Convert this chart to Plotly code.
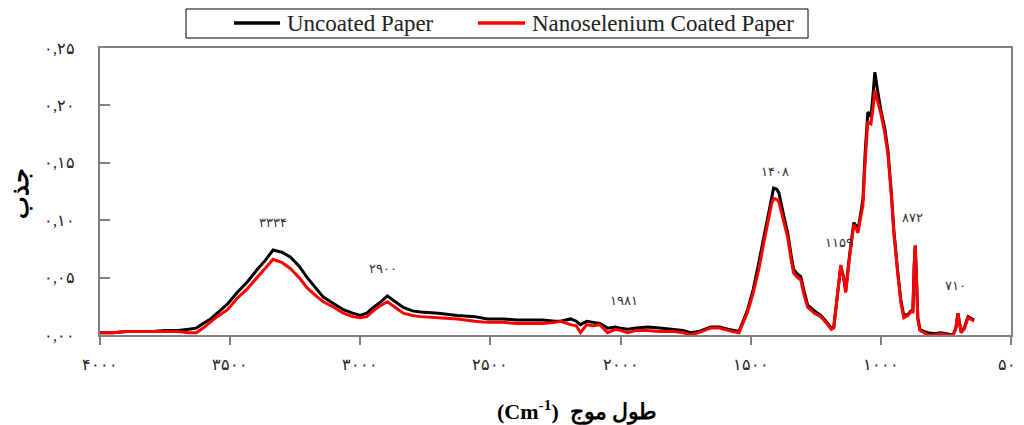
import plotly.graph_objects as go

# ---- data ----
wavenumber = [4000, 3950, 3900, 3850, 3800, 3750, 3700, 3660, 3630, 3604, 3575, 3550, 3510, 3473,
              3435, 3396, 3365, 3335, 3300, 3269, 3235, 3204, 3170, 3142, 3100, 3065, 3030, 3000,
              2975, 2950, 2920, 2896, 2865, 2835, 2800, 2769, 2700, 2627, 2560, 2512, 2450, 2400,
              2350, 2300, 2250, 2231, 2192, 2170, 2154, 2130, 2104, 2080, 2050, 2020, 2000, 1973,
              1940, 1896, 1850, 1796, 1760, 1731, 1700, 1654, 1620, 1588, 1570, 1545, 1512, 1490,
              1469, 1450, 1431, 1420, 1412, 1400, 1392, 1375, 1358, 1345, 1335, 1320, 1308, 1295,
              1281, 1255, 1231, 1215, 1204, 1190, 1181, 1168, 1154, 1143, 1135, 1120, 1104, 1095,
              1088, 1078, 1069, 1060, 1050, 1044, 1038, 1030, 1023, 1012, 1000, 985, 973, 960,
              950, 935, 923, 912, 896, 885, 877, 872, 868, 864, 858, 850, 835, 819, 795, 769,
              745, 723, 712, 704, 692, 680, 665, 652, 642]

uncoated = [0.002, 0.002, 0.003, 0.003, 0.003, 0.004, 0.004, 0.005, 0.006, 0.010, 0.014, 0.019, 0.027, 0.037,
            0.046, 0.057, 0.065, 0.074, 0.072, 0.068, 0.060, 0.050, 0.041, 0.033, 0.027, 0.022, 0.019, 0.017,
            0.019, 0.024, 0.029, 0.034, 0.029, 0.024, 0.021, 0.020, 0.019, 0.017, 0.016, 0.014, 0.014, 0.013,
            0.013, 0.013, 0.012, 0.012, 0.014, 0.012, 0.009, 0.012, 0.011, 0.010, 0.006, 0.007, 0.006, 0.005,
            0.006, 0.007, 0.006, 0.005, 0.004, 0.002, 0.003, 0.007, 0.007, 0.005, 0.004, 0.003, 0.022, 0.040,
            0.063, 0.085, 0.109, 0.122, 0.128, 0.127, 0.124, 0.106, 0.089, 0.070, 0.057, 0.053, 0.051, 0.038,
            0.026, 0.021, 0.017, 0.013, 0.010, 0.006, 0.007, 0.035, 0.060, 0.050, 0.039, 0.070, 0.098, 0.095,
            0.091, 0.105, 0.118, 0.160, 0.194, 0.193, 0.190, 0.210, 0.229, 0.212, 0.196, 0.180, 0.161, 0.125,
            0.091, 0.055, 0.030, 0.017, 0.018, 0.021, 0.021, 0.060, 0.078, 0.055, 0.015, 0.005, 0.003, 0.002, 0.001, 0.002,
            0.001, 0.000, 0.006, 0.019, 0.003, 0.006, 0.016, 0.014, 0.013]

coated = [0.002, 0.002, 0.003, 0.003, 0.003, 0.003, 0.003, 0.002, 0.002, 0.006, 0.011, 0.016, 0.022, 0.032,
          0.040, 0.050, 0.058, 0.066, 0.063, 0.058, 0.050, 0.041, 0.034, 0.029, 0.024, 0.019, 0.016, 0.015,
          0.016, 0.021, 0.026, 0.029, 0.024, 0.019, 0.017, 0.016, 0.015, 0.014, 0.012, 0.011, 0.011, 0.010,
          0.010, 0.010, 0.011, 0.012, 0.009, 0.008, 0.002, 0.009, 0.008, 0.009, 0.002, 0.005, 0.004, 0.002,
          0.004, 0.004, 0.003, 0.003, 0.002, 0.000, 0.002, 0.006, 0.006, 0.004, 0.003, 0.002, 0.020, 0.037,
          0.057, 0.080, 0.103, 0.114, 0.119, 0.118, 0.116, 0.100, 0.085, 0.066, 0.054, 0.050, 0.048, 0.035,
          0.024, 0.019, 0.016, 0.012, 0.009, 0.005, 0.006, 0.035, 0.061, 0.050, 0.037, 0.068, 0.096, 0.093,
          0.089, 0.102, 0.113, 0.152, 0.186, 0.185, 0.184, 0.198, 0.213, 0.203, 0.193, 0.176, 0.158, 0.122,
          0.089, 0.053, 0.028, 0.015, 0.017, 0.020, 0.020, 0.060, 0.078, 0.055, 0.014, 0.004, 0.002, 0.000, 0.000, 0.001,
          0.000, 0.000, 0.005, 0.019, 0.002, 0.005, 0.015, 0.013, 0.012]

series_names = ["Uncoated Paper", "Nanoselenium Coated Paper"]
series_colors = ["#000000", "#ff0000"]

x_tickvals = [4000, 3500, 3000, 2500, 2000, 1500, 1000, 500]
x_ticktext = ["۴۰۰۰", "۳۵۰۰", "۳۰۰۰", "۲۵۰۰", "۲۰۰۰", "۱۵۰۰", "۱۰۰۰", "۵۰۰"]
y_tickvals = [0.0, 0.05, 0.10, 0.15, 0.20, 0.25]
y_ticktext = ["۰,۰۰", "۰,۰۵", "۰,۱۰", "۰,۱۵", "۰,۲۰", "۰,۲۵"]

peak_x = [3334, 2912, 1985, 1408, 1162, 1031, 877, 712]
peak_y = [0.098, 0.058, 0.030, 0.142, 0.081, 0.2535, 0.102, 0.043]
peak_text = ["۳۳۳۴", "۲۹۰۰", "۱۹۸۱", "۱۴۰۸", "۱۱۵۹", "۱۰۳۶", "۸۷۲", "۷۱۰"]

FONT = "Times New Roman, Liberation Serif, DejaVu Serif, serif"

fig = go.Figure()
for yvals, name, color in zip([uncoated, coated], series_names, series_colors):
    fig.add_trace(go.Scatter(x=wavenumber, y=yvals, mode="lines", name=name,
                             line=dict(color=color, width=3), showlegend=False))

for px_, py_, t in zip(peak_x, peak_y, peak_text):
    fig.add_annotation(x=px_, y=py_, text=t, showarrow=False, xanchor="center", yanchor="middle",
                       font=dict(family=FONT, size=13, color="#333333"))

# axis titles
fig.add_annotation(xref="paper", yref="paper", x=-0.088, y=0.495, text="<b>جذب</b>", textangle=-90,
                   xanchor="center", yanchor="middle",
                   showarrow=False, font=dict(family=FONT, size=24, color="#000000"))
fig.add_annotation(xref="paper", yref="paper", x=0.524, y=-0.262, xanchor="center", yanchor="middle",
                   text="<b>(Cm<sup>-1</sup>)  طول موج</b>", showarrow=False,
                   font=dict(family=FONT, size=22, color="#000000"))

# legend drawn as a framed box with line samples and labels
fig.add_shape(type="rect", xref="paper", yref="paper", x0=0.0944, x1=0.7772, y0=1.0348, y1=1.1359,
              line=dict(color="#000000", width=1), fillcolor="rgba(0,0,0,0)")
leg_line_x = [(0.1471, 0.1976), (0.4148, 0.4665)]
leg_text_x = [0.2031, 0.4720]
for (lx0, lx1), tx, name, color in zip(leg_line_x, leg_text_x, series_names, series_colors):
    fig.add_shape(type="line", xref="paper", yref="paper", x0=lx0, x1=lx1, y0=1.0871, y1=1.0871,
                  line=dict(color=color, width=3.5))
    fig.add_annotation(xref="paper", yref="paper", x=tx, y=1.0871, xanchor="left", yanchor="middle",
                       text=name, showarrow=False, font=dict(family=FONT, size=23, color="#222222"))

fig.update_layout(
    width=1016, height=417,
    margin=dict(l=92, r=13, t=40, b=90, autoexpand=False),
    paper_bgcolor="white", plot_bgcolor="white",
    font=dict(family=FONT, size=14, color="#222222"),
    showlegend=False,
    xaxis=dict(range=[4000, 500], tickvals=x_tickvals, ticktext=x_ticktext,
               showline=True, linecolor="#808080", linewidth=1.5, mirror=True,
               ticks="outside", ticklen=8, tickcolor="#808080", tickwidth=1.5,
               showgrid=False, zeroline=False, ticklabelstandoff=6, ticklabeloverflow="allow",
               tickfont=dict(family=FONT, size=16, color="#222222")),
    yaxis=dict(range=[0, 0.25], tickvals=y_tickvals, ticktext=y_ticktext,
               showline=True, linecolor="#808080", linewidth=1.5, mirror=True,
               ticks="inside", ticklen=10, tickcolor="#808080", tickwidth=1.5,
               showgrid=False, zeroline=False, ticklabelstandoff=20,
               tickfont=dict(family=FONT, size=16, color="#222222")),
)

fig.write_html("out.html")
